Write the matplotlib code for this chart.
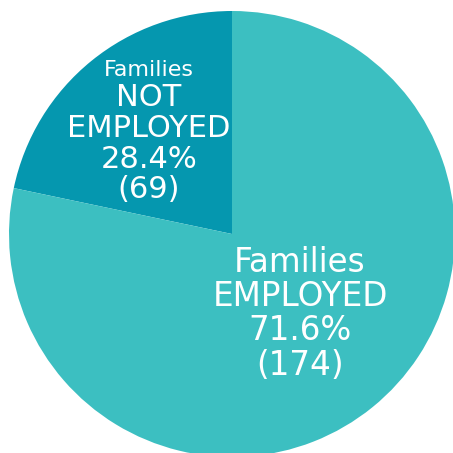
import matplotlib
matplotlib.use("Agg")
import matplotlib.pyplot as plt

# ── Data ──────────────────────────────────────────────────────────────────────
labels = ["NOT EMPLOYED", "EMPLOYED"]
counts = [69, 174]
percents = [28.4, 71.6]
# slice sizes as drawn in the reference (the wedge is narrower than its label)
drawn_share = [21.7, 78.3]
colors = ["#0597AF", "#3CBFC1"]

W = H = 453
fig = plt.figure(figsize=(W / 100, H / 100), dpi=100)
ax = fig.add_axes([0, 0, 1, 1])

cx, cy, r = 232, H - 234, 223
ax.pie(drawn_share, colors=colors, startangle=90, counterclock=True,
       center=(cx, cy), radius=r, wedgeprops=dict(linewidth=0))
ax.set_xlim(0, W)
ax.set_ylim(0, H)
ax.set_aspect("equal")
ax.axis("off")

FONT = "DejaVu Sans"

def label_block(x, lines, baselines, sizes):
    for txt, yb, fs in zip(lines, baselines, sizes):
        ax.text(x, H - yb, txt, ha="center", va="baseline", color="white",
                fontsize=fs, family=FONT)

label_block(149, ["Families", labels[0].split()[0], labels[0].split()[1],
                  f"{percents[0]}%", f"({counts[0]})"],
            [76, 106, 137, 168, 198], [16, 22, 22, 22, 22])

label_block(300, ["Families", labels[1], f"{percents[1]}%", f"({counts[1]})"],
            [272, 306, 340, 375], [23.5, 23.5, 23.5, 23.5])

fig.savefig("out.png", dpi=100)
